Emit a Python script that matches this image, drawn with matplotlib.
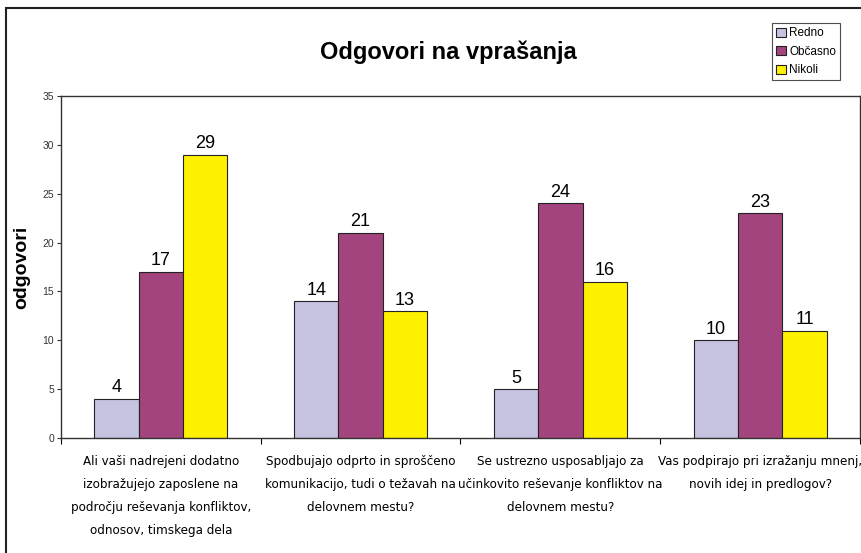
import matplotlib.pyplot as plt
import numpy as np
from matplotlib.patches import Rectangle

questions = [
    "Ali vaši nadrejeni dodatno\nizobražujejo zaposlene na\npodročju reševanja konfliktov,\nodnosov, timskega dela",
    "Spodbujajo odprto in sproščeno\nkomunikacijo, tudi o težavah na\ndelovnem mestu?",
    "Se ustrezno usposabljajo za\nučinkovito reševanje konfliktov na\ndelovnem mestu?",
    "Vas podpirajo pri izražanju mnenj,\nnovih idej in predlogov?",
]
series = ["Redno", "Občasno", "Nikoli"]
redno = [4, 14, 5, 10]
obcasno = [17, 21, 24, 23]
nikoli = [29, 13, 16, 11]
colors = ["#C6C3E1", "#A4447F", "#FFF200"]

plt.rcParams['font.family'] = ["Liberation Sans", "DejaVu Sans"]

fig = plt.figure(figsize=(8.62, 5.53), dpi=100)
ax = fig.add_axes([61/862, 1 - 438/553, (860-61)/862, (438-96)/553])

x = np.arange(len(questions))
w = 0.222
for i, (name, vals) in enumerate(zip(series, [redno, obcasno, nikoli])):
    pos = x + (i - 1) * w
    bars = ax.bar(pos, vals, w, color=colors[i], edgecolor="#222222", linewidth=0.8, label=name)
    for b, v in zip(bars, vals):
        ax.text(b.get_x() + b.get_width()/2, v + 0.25, str(v), ha="center", va="bottom",
                fontsize=13)

ax.set_xlim(-0.5, len(questions) - 0.5)
ax.set_ylim(0, 35)
ax.set_yticks(range(0, 36, 5))
ax.tick_params(axis="y", labelsize=7.5, direction="out", length=3, width=0.8, pad=2, colors="#333333")
ax.set_xticks(np.arange(-0.5, len(questions), 1.0))
ax.set_xticklabels([])
ax.tick_params(axis="x", direction="out", length=4, width=0.8)
ax.set_xticks(x, minor=True)
ax.set_xticklabels(questions, minor=True, fontsize=9.5, family="DejaVu Sans",
                   fontstretch="condensed", linespacing=2.0)
ax.tick_params(axis="x", which="minor", length=0, pad=12)
for s in ax.spines.values():
    s.set_linewidth(1.0)
    s.set_color("#333333")

ax.set_ylabel("odgovori", fontsize=14, fontweight="bold", labelpad=9)
fig.text(448/862, 1 - 52/553, "Odgovori na vprašanja", ha="center", va="center",
         fontsize=17, fontweight="bold")

leg = fig.legend(loc="upper left", bbox_to_anchor=(772/862, 1 - 23/553), frameon=True,
                 fancybox=False, edgecolor="#222222", fontsize=8.5, handlelength=0.8,
                 handleheight=0.8, handletextpad=0.3, borderpad=0.35, labelspacing=0.55,
                 borderaxespad=0)
leg.get_frame().set_linewidth(0.8)

fig.patches.append(Rectangle((6/862, -0.1), 1.2, 1 - 8/553 + 0.1, transform=fig.transFigure,
                             fill=False, edgecolor="#222222", linewidth=1.5))

fig.savefig("out.png", dpi=100)
